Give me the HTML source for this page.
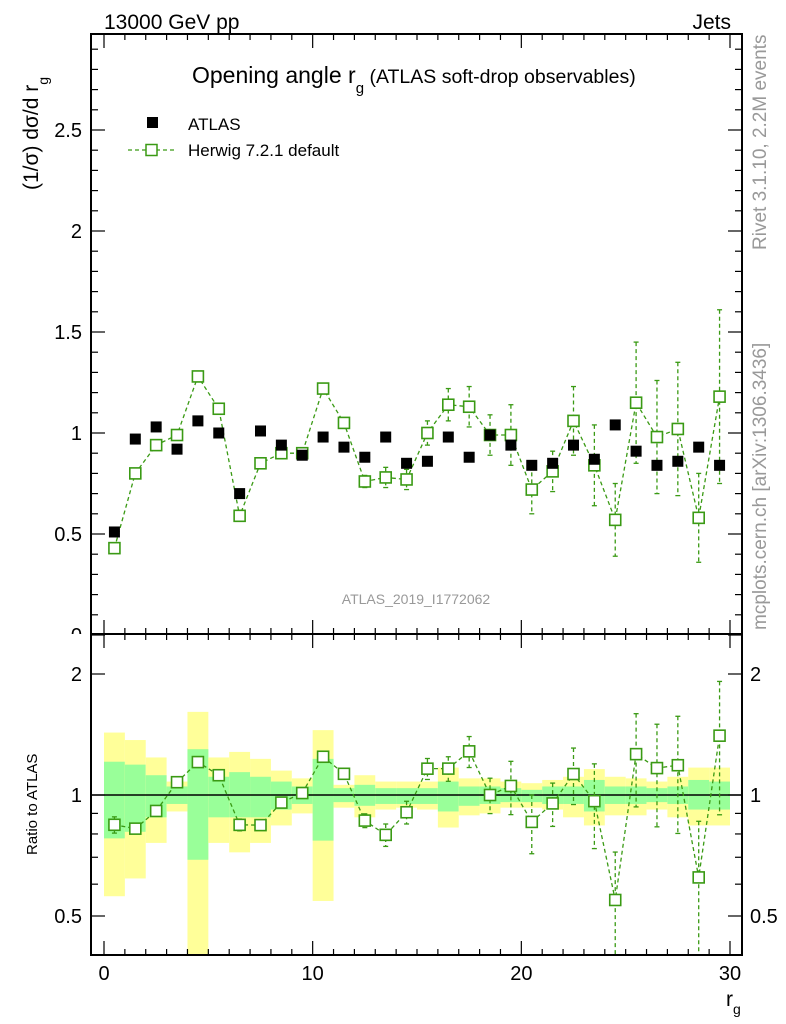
<!DOCTYPE html>
<html><head><meta charset="utf-8"><style>
html,body{margin:0;padding:0;background:#fff;}
svg{display:block;font-family:"Liberation Sans",sans-serif;}
</style></head><body>
<svg id="c" width="786" height="1024" viewBox="0 0 786 1024"></svg>
<script>
const bins=[0.5,1.5,2.5,3.5,4.5,5.5,6.5,7.5,8.5,9.5,10.5,11.5,12.5,13.5,14.5,15.5,16.5,17.5,18.5,19.5,20.5,21.5,22.5,23.5,24.5,25.5,26.5,27.5,28.5,29.5];
const atlasVals=[0.51,0.97,1.03,0.92,1.06,1.00,0.70,1.01,0.94,0.89,0.98,0.93,0.88,0.98,0.85,0.86,0.98,0.88,0.99,0.94,0.84,0.85,0.94,0.87,1.04,0.91,0.84,0.86,0.93,0.84];
const herwigVals=[0.43,0.80,0.94,0.99,1.28,1.12,0.59,0.85,0.90,0.90,1.22,1.05,0.76,0.78,0.77,1.00,1.14,1.13,0.99,0.99,0.72,0.81,1.06,0.84,0.57,1.15,0.98,1.02,0.58,1.18];
const herwigErr=[0.02,0.02,0.02,0.02,0.02,0.02,0.02,0.02,0.02,0.02,0.02,0.02,0.03,0.05,0.05,0.06,0.08,0.1,0.1,0.15,0.12,0.1,0.17,0.2,0.18,0.3,0.28,0.33,0.22,0.43];
const yelUp=[1.43,1.37,1.24,1.08,1.61,1.24,1.28,1.23,1.15,1.10,1.45,1.06,1.12,1.08,1.08,1.08,1.17,1.10,1.10,1.08,1.07,1.09,1.11,1.16,1.11,1.10,1.08,1.11,1.17,1.17];
const yelDn=[0.56,0.62,0.76,0.91,0.30,0.76,0.72,0.76,0.84,0.90,0.545,0.93,0.88,0.92,0.93,0.92,0.83,0.89,0.90,0.93,0.93,0.92,0.88,0.84,0.89,0.89,0.92,0.88,0.84,0.84];
const grnUp=[1.21,1.19,1.12,1.05,1.30,1.11,1.14,1.11,1.08,1.05,1.23,1.04,1.06,1.04,1.04,1.04,1.08,1.05,1.05,1.04,1.03,1.05,1.05,1.09,1.05,1.05,1.04,1.05,1.09,1.08];
const grnDn=[0.78,0.81,0.88,0.95,0.69,0.88,0.88,0.88,0.92,0.95,0.77,0.96,0.94,0.95,0.95,0.95,0.91,0.94,0.95,0.96,0.96,0.95,0.95,0.91,0.95,0.95,0.96,0.95,0.92,0.92];
const mainTicks=[0,0.5,1,1.5,2,2.5];
const ratioTicks=[0.5,1,2];
const xTicks=[0,10,20,30];

const NS="http://www.w3.org/2000/svg";
const svg=document.getElementById('c');
const L=91,R=742,T=34,MB=634,RB=955;
const X=v=>104+v*(730-104)/30;
const Ym=v=>635-v*202;
const Yr=v=>795-121*Math.log2(v);
function el(tag,attrs,parent){const e=document.createElementNS(NS,tag);for(const k in attrs)e.setAttribute(k,attrs[k]);(parent||svg).appendChild(e);return e;}
function txt(s,attrs,parent){const e=el('text',attrs,parent);e.textContent=s;return e;}

const defs=el('defs',{});
const cp=el('clipPath',{id:'rclip'},defs);el('rect',{x:L,y:MB,width:R-L,height:RB-MB},cp);
const cpm=el('clipPath',{id:'mclip'},defs);el('rect',{x:L,y:T,width:R-L,height:MB-T},cpm);
const cpl=el('clipPath',{id:'lclip'},defs);el('rect',{x:0,y:0,width:L,height:MB},cpl);

const bands=el('g',{'clip-path':'url(#rclip)'});

bins.forEach((b,i)=>{
  const x0=X(b-0.5),w=X(b+0.5)-x0;
  const y=el('rect',{x:x0,y:Yr(yelUp[i]),width:w,height:Yr(yelDn[i])-Yr(yelUp[i]),fill:'#ffff99'},bands);
  
  const g=el('rect',{x:x0,y:Yr(grnUp[i]),width:w,height:Yr(grnDn[i])-Yr(grnUp[i]),fill:'#99ff99'},bands);
  
});
el('line',{x1:L,x2:R,y1:Yr(1),y2:Yr(1),stroke:'#000','stroke-width':1.5});

const GC='#3a9a14';
function drawHerwig(Yf,vals,errs,clip,name){
  const g=el('g',{'clip-path':clip});
  
  let d='';bins.forEach((b,i)=>{d+=(i?'L':'M')+X(b)+' '+Yf(vals[i]);});
  el('path',{d:d,fill:'none',stroke:GC,'stroke-width':1.3,'stroke-dasharray':'4,3'},g);
  bins.forEach((b,i)=>{
    const x=X(b),yu=Yf(vals[i]+errs[i]),yd=Yf(Math.max(vals[i]-errs[i],0.01));
    el('line',{x1:x,x2:x,y1:yu,y2:yd,stroke:GC,'stroke-width':1.3,'stroke-dasharray':'4,3'},g);
    el('line',{x1:x-2.5,x2:x+2.5,y1:yu,y2:yu,stroke:GC,'stroke-width':1.3},g);
    el('line',{x1:x-2.5,x2:x+2.5,y1:yd,y2:yd,stroke:GC,'stroke-width':1.3},g);
    const m=el('rect',{x:x-5.5,y:Yf(vals[i])-5.5,width:11,height:11,fill:'#fff',stroke:GC,'stroke-width':1.6},g);
    
  });
}
const rv=herwigVals.map((v,i)=>v/atlasVals[i]);
const re=herwigErr.map((v,i)=>v/atlasVals[i]);
drawHerwig(Yr,rv,re,'url(#rclip)','ratio-herwig-series');
drawHerwig(Ym,herwigVals,herwigErr,'url(#mclip)','herwig-series');

const ag=el('g',{});
bins.forEach((b,i)=>{
  const m=el('rect',{x:X(b)-5.5,y:Ym(atlasVals[i])-5.5,width:11,height:11,fill:'#000'},ag);
  
});

el('rect',{x:L,y:T,width:R-L,height:MB-T,fill:'none',stroke:'#000','stroke-width':2});
el('rect',{x:L,y:MB,width:R-L,height:RB-MB,fill:'none',stroke:'#000','stroke-width':2});

for(let v=0;v<=30;v++){
  const x=X(v),len=(v%10===0)?14:6;
  el('line',{x1:x,x2:x,y1:RB,y2:RB-len,stroke:'#000','stroke-width':1.2});
  el('line',{x1:x,x2:x,y1:MB,y2:MB-len,stroke:'#000','stroke-width':1.2});
  el('line',{x1:x,x2:x,y1:MB,y2:MB+len,stroke:'#000','stroke-width':1.2});
  el('line',{x1:x,x2:x,y1:T,y2:T+len,stroke:'#000','stroke-width':1.2});
}
xTicks.forEach(v=>{const t=txt(String(v),{x:X(v),y:980,'font-size':20,'text-anchor':'middle'});});

for(let k=0;k<=29;k++){
  const v=k/10,y=Ym(v);if(y<T)continue;
  const len=(k%5===0)?14:7;
  el('line',{x1:L,x2:L+len,y1:y,y2:y,stroke:'#000','stroke-width':1.2});
  el('line',{x1:R,x2:R-len,y1:y,y2:y,stroke:'#000','stroke-width':1.2});
}
const lg=el('g',{'clip-path':'url(#lclip)'});
mainTicks.forEach(v=>{const t=txt(String(v),{x:82,y:Ym(v)+7,'font-size':20,'text-anchor':'end'},lg);});

[0.4,0.5,0.6,0.7,0.8,0.9,1,2].forEach(v=>{
  const y=Yr(v),len=(v===0.5||v===1||v===2)?14:7;
  el('line',{x1:L,x2:L+len,y1:y,y2:y,stroke:'#000','stroke-width':1.2});
  el('line',{x1:R,x2:R-len,y1:y,y2:y,stroke:'#000','stroke-width':1.2});
});
ratioTicks.forEach(v=>{
  const t=txt(String(v),{x:82,y:Yr(v)+7,'font-size':20,'text-anchor':'end'});
  const t2=txt(String(v),{x:750,y:Yr(v)+7,'font-size':20});
});
</script>
<script>
const s=document.getElementById('c');
s.insertAdjacentHTML('beforeend',`
<text x="104" y="29" font-size="21">13000 GeV pp</text>
<text x="731" y="29" font-size="21" text-anchor="end">Jets</text>
<text x="192" y="83" font-size="23">Opening angle r<tspan font-size="15" dy="10">g</tspan><tspan font-size="19.5" dy="-10"> (ATLAS soft-drop observables)</tspan></text>
<g>
<rect x="147" y="117" width="11" height="11" fill="#000"/>
<text x="188" y="130" font-size="17">ATLAS</text>
<line x1="128" x2="175" y1="150" y2="150" stroke="#3a9a14" stroke-width="1.3" stroke-dasharray="4,3"/>
<rect x="146" y="144.5" width="11" height="11" fill="#fff" stroke="#3a9a14" stroke-width="1.5"/>
<text x="188" y="156" font-size="17">Herwig 7.2.1 default</text>
</g>
<text transform="translate(38,190) rotate(-90)" font-size="21">(1/σ) dσ/d r<tspan font-size="14" dy="10">g</tspan></text>
<text transform="translate(37,855) rotate(-90)" font-size="15">Ratio to ATLAS</text>
<text transform="translate(766,250) rotate(-90)" font-size="19" fill="#999">Rivet 3.1.10,  2.2M events</text>
<text transform="translate(766,630) rotate(-90)" font-size="19" fill="#999">mcplots.cern.ch [arXiv:1306.3436]</text>
<text x="416" y="604" font-size="14" fill="#999" text-anchor="middle">ATLAS_2019_I1772062</text>
<text x="726" y="1006" font-size="21">r<tspan font-size="14" dy="8">g</tspan></text>
`);
</script>
</body></html>
